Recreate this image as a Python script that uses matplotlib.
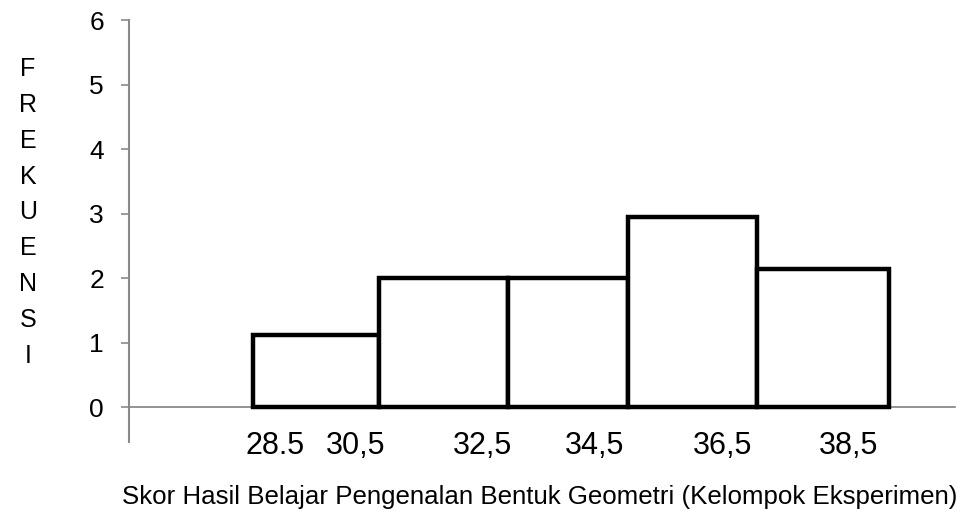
import matplotlib.pyplot as plt

plt.rcParams['font.family'] = ['Liberation Sans', 'DejaVu Sans']

edges = [28.5, 30.5, 32.55, 34.45, 36.5, 38.6]
freq = [1.12, 2, 2, 2.95, 2.14]
tick_pos = [28.85, 30.12, 32.14, 33.92, 35.95, 37.95]
tick_lbl = ['28.5', '30,5', '32,5', '34,5', '36,5', '38,5']

fig = plt.figure(figsize=(9.62, 5.12), dpi=100)
ax = fig.add_axes([0.1341, 0.1367, 0.8586, 0.8242])

lefts = edges[:-1]
widths = [edges[i + 1] - edges[i] for i in range(len(freq))]
ax.bar(lefts, freq, width=widths, align='edge', facecolor='white',
       edgecolor='black', linewidth=3.2, zorder=3)

ax.set_xlim(26.53, 39.64)
ax.set_ylim(-0.54, 6)
ax.set_yticks(range(0, 7))
ax.set_xticks(tick_pos)
ax.set_xticklabels(tick_lbl)

for s in ['top', 'right']:
    ax.spines[s].set_visible(False)
ax.spines['bottom'].set_position(('data', 0))
ax.spines['bottom'].set_color('#808080')
ax.spines['bottom'].set_linewidth(1.2)
ax.spines['left'].set_color('#8a8a8a')
ax.spines['left'].set_linewidth(1.5)
ax.spines['left'].set_bounds(-0.54, 6)

ax.tick_params(axis='y', direction='out', length=6, width=1.2, color='#8a8a8a',
               labelsize=19, pad=12)
ax.tick_params(axis='x', length=0, labelsize=22, pad=17)

fig.text(0.029, 0.585, 'F\nR\nE\nK\nU\nE\nN\nS\nI', fontsize=18,
         ha='center', va='center', linespacing=1.62)
fig.text(0.5615, 0.029, 'Skor Hasil Belajar Pengenalan Bentuk Geometri (Kelompok Eksperimen)',
         fontsize=18.6, ha='center', va='center')

plt.savefig('out.png', dpi=100)
